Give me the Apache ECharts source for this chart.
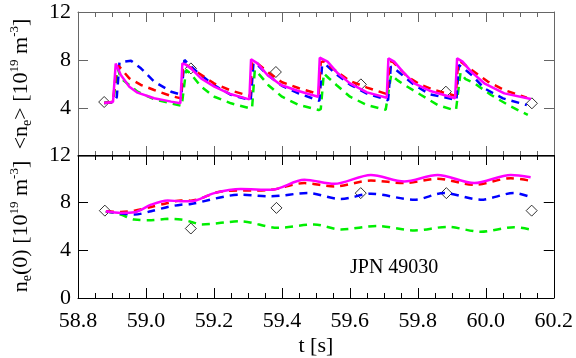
<!DOCTYPE html>
<html>
<head>
<meta charset="utf-8">
<script src="https://cdn.jsdelivr.net/npm/echarts@6/dist/echarts.min.js"></script>
<style>
  html, body { margin: 0; padding: 0; background: #fff; }
  #chart { width: 576px; height: 358px; }
</style>
</head>
<body>
<div id="chart"></div>
<script>
// x range / ticks
const tMin = 58.8, tMax = 60.2, tStep = 0.2;
const yMin = 0, yMax = 12, yStep = 4;

// upper panel: line-averaged density <ne>
const avgSolid = [
  [58.877,4.42],[58.903,4.5],[58.911,7.7],[58.926,6.75],[58.951,5.78],[58.975,5.28],[59.024,4.81],[59.074,4.53],[59.101,4.4],
  [59.107,7.72],[59.115,7.65],[59.132,7.3],[59.162,6.47],[59.201,5.78],[59.25,5.14],[59.304,4.72],
  [59.309,8.06],[59.328,7.72],[59.357,6.75],[59.397,5.92],[59.446,5.44],[59.506,4.94],
  [59.511,8.19],[59.534,7.86],[59.564,6.89],[59.6,6.05],[59.65,5.3],[59.708,4.86],
  [59.713,8.14],[59.73,7.86],[59.755,7.03],[59.789,6.06],[59.834,5.44],[59.909,4.81],
  [59.915,8.14],[59.931,7.86],[59.956,7.03],[59.995,6.06],[60.054,5.22],[60.132,4.75]
];
const avgRed = [
  [58.877,4.42],[58.903,4.5],[58.913,7.4],[58.92,7.5],[58.951,6.47],[58.985,5.92],[59.024,5.5],[59.074,5.0],[59.103,4.8],
  [59.109,7.5],[59.118,7.6],[59.15,7.0],[59.2,6.05],[59.25,5.45],[59.306,5.0],
  [59.312,7.8],[59.32,7.9],[59.36,6.95],[59.4,6.15],[59.45,5.65],[59.508,5.15],
  [59.514,7.8],[59.522,7.9],[59.56,7.05],[59.6,6.25],[59.65,5.7],[59.71,5.15],
  [59.716,7.8],[59.724,7.9],[59.769,6.6],[59.809,5.92],[59.848,5.5],[59.911,5.0],
  [59.918,7.8],[59.926,7.85],[59.956,7.2],[60.005,6.2],[60.054,5.5],[60.12,4.85]
];
const avgBlue = [
  [58.877,4.42],[58.905,4.5],[58.914,4.9],[58.922,7.8],[58.956,7.94],[58.985,7.31],[59.024,6.2],[59.074,5.36],[59.104,5.1],
  [59.113,8.0],[59.118,8.0],[59.15,7.0],[59.2,5.9],[59.25,5.1],[59.308,4.65],
  [59.316,7.72],[59.323,7.72],[59.36,6.7],[59.4,5.85],[59.45,5.2],[59.51,4.6],
  [59.518,7.58],[59.53,7.58],[59.56,6.8],[59.6,5.95],[59.65,5.2],[59.712,4.65],
  [59.72,7.44],[59.73,7.3],[59.76,6.6],[59.789,5.92],[59.834,5.15],[59.913,4.67],
  [59.92,7.58],[59.93,7.4],[59.96,6.7],[59.995,5.64],[60.05,4.8],[60.12,4.25]
];
const avgGreen = [
  [58.877,4.42],[58.903,4.5],[58.917,7.3],[58.926,6.47],[58.975,5.36],[59.024,4.72],[59.074,4.39],[59.105,4.17],
  [59.108,4.2],[59.118,7.17],[59.13,6.9],[59.162,5.78],[59.201,4.94],[59.25,4.39],[59.306,3.97],
  [59.312,4.0],[59.32,7.17],[59.33,6.9],[59.36,5.9],[59.4,4.94],[59.45,4.25],[59.508,3.83],
  [59.514,3.9],[59.523,6.89],[59.537,6.5],[59.56,5.92],[59.6,4.94],[59.65,4.25],[59.705,3.85],
  [59.71,3.9],[59.721,6.75],[59.74,6.3],[59.76,5.92],[59.809,5.08],[59.858,4.25],[59.905,3.83],
  [59.912,3.9],[59.925,6.94],[59.94,6.4],[59.966,6.06],[60.015,5.08],[60.074,4.11],[60.123,3.42]
];
const avgMeasured = [[58.877,4.5],[59.132,7.3],[59.382,7.0],[59.632,5.97],[59.882,5.36],[60.135,4.39]];

// lower panel: central density ne(0)
const cenSolid = [
  [58.882,7.28],[58.926,7.14],[58.966,7.19],[59.015,7.83],[59.064,8.19],[59.103,8.11],[59.132,8.11],[59.201,8.8],
  [59.279,9.14],[59.368,9.08],[59.466,9.92],[59.554,9.58],[59.662,10.33],[59.76,9.78],[59.858,10.33],[59.966,9.64],
  [60.074,10.33],[60.132,10.14]
];
const cenRed = [
  [58.882,7.28],[58.926,7.22],[58.966,7.33],[59.015,7.64],[59.064,7.97],[59.103,8.19],[59.132,8.17],[59.221,8.94],
  [59.368,9.08],[59.466,9.64],[59.554,9.36],[59.662,9.86],[59.76,9.64],[59.858,10.0],[59.966,9.5],[60.074,10.05],[60.132,9.83]
];
const cenBlue = [
  [58.882,7.28],[58.926,7.08],[58.966,7.0],[59.015,7.28],[59.064,7.64],[59.103,7.83],[59.132,7.89],[59.279,8.67],
  [59.368,8.53],[59.475,8.81],[59.574,8.31],[59.662,8.75],[59.79,8.25],[59.877,8.81],[59.985,8.25],[60.083,8.81],[60.132,8.47]
];
const cenGreen = [
  [58.882,7.28],[58.926,7.0],[58.966,6.58],[59.015,6.53],[59.064,6.64],[59.103,6.58],[59.132,6.4],[59.162,6.17],
  [59.279,6.44],[59.387,5.89],[59.495,6.17],[59.574,5.75],[59.68,6.05],[59.79,5.67],[59.887,5.97],[59.985,5.56],
  [60.083,5.94],[60.132,5.75]
];
const cenMeasured = [[58.879,7.33],[59.132,5.83],[59.384,7.56],[59.632,8.8],[59.884,8.8],[60.135,7.33]];

const shotLabel = 'JPN 49030';

const font = 'Liberation Serif';
const chart = echarts.init(document.getElementById('chart'), null, { renderer: 'canvas' });

const rich = {
  sub: { fontFamily: font, fontSize: 14, lineHeight: 14, verticalAlign: 'bottom', color: '#000' },
  sup: { fontFamily: font, fontSize: 13, lineHeight: 13, verticalAlign: 'top', color: '#000' }
};

function xAxisFor(grid, pos, showLabel, color) {
  return {
    type: 'value', gridIndex: grid, position: pos, min: tMin, max: tMax, interval: tStep,
    axisLine: { show: true, onZero: false, lineStyle: { color: color, width: 1 } },
    axisTick: { show: true, inside: true, length: 10, lineStyle: { color: color } },
    minorTick: { show: true, splitNumber: 4, length: 5, lineStyle: { color: color } },
    splitLine: { show: false },
    axisLabel: {
      show: showLabel, margin: 12, fontFamily: font, fontSize: 22, color: '#000',
      showMinLabel: true, showMaxLabel: true,
      formatter: v => v.toFixed(1)
    }
  };
}

function yAxisFor(grid, pos, showLabel, color, name, hideZero) {
  return {
    type: 'value', gridIndex: grid, position: pos, min: yMin, max: yMax, interval: yStep,
    axisLine: { show: true, onZero: false, lineStyle: { color: color, width: 1 } },
    axisTick: { show: true, inside: true, length: 10, lineStyle: { color: color } },
    splitLine: { show: false },
    axisLabel: {
      show: showLabel, margin: 7, fontFamily: font, fontSize: 22, color: '#000',
      formatter: v => (hideZero && v === 0 ? '' : String(v))
    },
    name: name || '',
    nameLocation: 'middle',
    nameRotate: 90,
    nameGap: 44,
    nameTextStyle: { fontFamily: font, fontSize: 22, lineHeight: 26, color: '#000', rich: rich }
  };
}

function dashed(name, data, color, xi, yi, smooth) {
  return {
    name: name, type: 'line', xAxisIndex: xi, yAxisIndex: yi, data: data,
    showSymbol: false, smooth: smooth, animation: false,
    lineStyle: { color: color, width: 2.5, type: [8, 6] }
  };
}

const option = {
  animation: false,
  backgroundColor: '#fff',
  grid: [
    { left: 77, top: 12, width: 477, height: 144 },
    { left: 77, top: 155, width: 477, height: 144 }
  ],
  xAxis: [
    xAxisFor(0, 'bottom', false, '#666'),
    xAxisFor(0, 'top', false, '#666'),
    Object.assign(xAxisFor(1, 'bottom', true, '#000'), {
      name: 't [s]', nameLocation: 'middle', nameGap: 37,
      nameTextStyle: { fontFamily: font, fontSize: 22, color: '#000' }
    }),
    xAxisFor(1, 'top', false, '#000')
  ],
  yAxis: [
    yAxisFor(0, 'left', true, '#666', '<n{sub|e}> [10{sup|19} m{sup|-3}]', true),
    yAxisFor(0, 'right', false, '#666'),
    yAxisFor(1, 'left', true, '#000', 'n{sub|e}(0) [10{sup|19} m{sup|-3}]', false),
    yAxisFor(1, 'right', false, '#000')
  ],
  series: [
    dashed('avg green', avgGreen, '#00ee00', 0, 0, false),
    dashed('avg blue', avgBlue, '#0000ff', 0, 0, false),
    dashed('avg red', avgRed, '#ff0000', 0, 0, false),
    {
      name: 'avg solid', type: 'line', xAxisIndex: 0, yAxisIndex: 0, data: avgSolid,
      showSymbol: false, lineStyle: { color: '#ff00ff', width: 2.5 }
    },
    {
      name: 'avg measured', type: 'scatter', xAxisIndex: 0, yAxisIndex: 0, data: avgMeasured,
      symbol: 'diamond', symbolSize: 11,
      itemStyle: { color: 'rgba(255,255,255,0)', borderColor: '#000', borderWidth: 1 }
    },
    dashed('cen green', cenGreen, '#00ee00', 2, 2, 0.3),
    dashed('cen blue', cenBlue, '#0000ff', 2, 2, 0.3),
    dashed('cen red', cenRed, '#ff0000', 2, 2, 0.3),
    {
      name: 'cen solid', type: 'line', xAxisIndex: 2, yAxisIndex: 2, data: cenSolid,
      showSymbol: false, smooth: 0.3, lineStyle: { color: '#ff00ff', width: 2.5 }
    },
    {
      name: 'cen measured', type: 'scatter', xAxisIndex: 2, yAxisIndex: 2, data: cenMeasured,
      symbol: 'diamond', symbolSize: 11,
      itemStyle: { color: 'rgba(255,255,255,0)', borderColor: '#000', borderWidth: 1 }
    }
  ],
  graphic: [
    {
      type: 'text', left: 350, top: 258,
      style: { text: shotLabel, fontFamily: font, fontSize: 20, fill: '#000' }
    }
  ]
};

chart.setOption(option);
window.addEventListener('resize', () => chart.resize());
</script>
</body>
</html>
